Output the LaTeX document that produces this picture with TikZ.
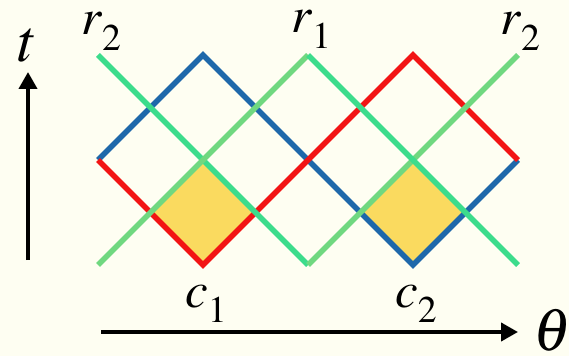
\documentclass[tikz,border=0pt]{standalone}
\usepackage{mathptmx}
\usetikzlibrary{arrows.meta}
\definecolor{bg}{RGB}{254,254,242}
\definecolor{dblue}{RGB}{30,104,170}
\definecolor{dred}{RGB}{242,20,20}
\definecolor{mint}{RGB}{60,220,140}
\definecolor{lgreen}{RGB}{112,216,128}
\definecolor{fillyel}{RGB}{250,218,95}
\tikzset{
  wl/.style={line width=5.5pt, line join=miter, line cap=butt},
  axis/.style={line width=4pt, -{Triangle[width=18pt,length=17pt]}},
  lbl/.style={inner sep=0pt, anchor=base, font=\fontsize{51}{51}\selectfont},
  biglbl/.style={inner sep=0pt, anchor=base, font=\fontsize{60}{60}\selectfont}
}
\newcommand{\lsub}[2]{$#1$\raisebox{-0.3em}{$\scriptstyle #2$}}
\begin{document}
\begin{tikzpicture}[x=1pt,y=1pt]
\useasboundingbox[fill=bg] (0,0) rectangle (569,356);
\coordinate (T1) at (98,301);
\coordinate (T2) at (203,301);
\coordinate (T3) at (308,301);
\coordinate (T4) at (413,301);
\coordinate (T5) at (518,301);
\coordinate (M1) at (98,196);
\coordinate (M2) at (203,196);
\coordinate (M3) at (308,196);
\coordinate (M4) at (413,196);
\coordinate (M5) at (518,196);
\coordinate (B1) at (98,91);
\coordinate (B2) at (203,91);
\coordinate (B3) at (308,91);
\coordinate (B4) at (413,91);
\coordinate (B5) at (518,91);
\fill[fillyel] (M2) -- (255.5,143.5) -- (B2) -- (150.5,143.5) -- cycle;
\fill[fillyel] (M4) -- (465.5,143.5) -- (B4) -- (360.5,143.5) -- cycle;
\draw[wl, dblue] (M1) -- (T2) -- (B4) -- (M5);
\draw[wl, dred] (M1) -- (B2) -- (T4) -- (M5);
\draw[wl, mint] (T1) -- (B3);
\draw[wl, lgreen] (B3) -- (T5);
\draw[wl, lgreen] (B1) -- (T3);
\draw[wl, mint] (T3) -- (B5);
\coordinate (tA) at (28,96);
\coordinate (tB) at (28,284);
\coordinate (hA) at (101,24);
\coordinate (hB) at (518,24);
\draw[axis] (tA) -- (tB);
\draw[axis] (hA) -- (hB);
\node[biglbl] (tl) at (28,294) {$t$};
\node[biglbl] (thl) at (553,6) {$\theta$};
\node[lbl] (r2a) at (101,321) {\lsub{r}{2}};
\node[lbl] (r1) at (311,323) {\lsub{r}{1}};
\node[lbl] (r2b) at (520,321) {\lsub{r}{2}};
\node[lbl] (c1) at (206,49) {\lsub{c}{1}};
\node[lbl] (c2) at (416,49) {\lsub{c}{2}};
\end{tikzpicture}
\end{document}
